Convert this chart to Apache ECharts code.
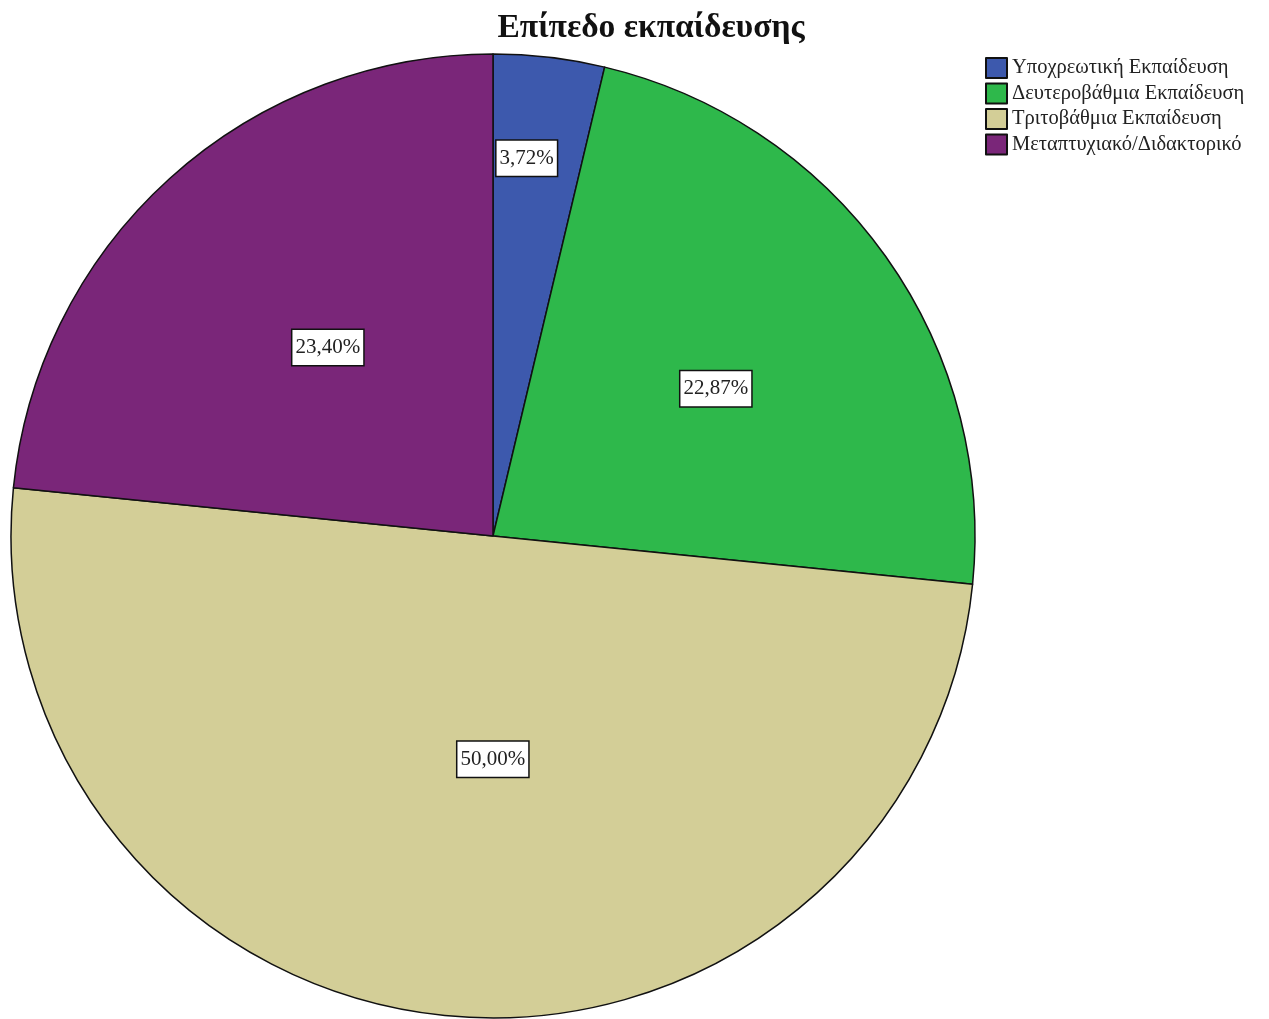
<!DOCTYPE html>
<html>
<head>
<meta charset="utf-8">
<script src="https://cdn.jsdelivr.net/npm/echarts@6/dist/echarts.min.js"></script>
<style>
  html, body { margin: 0; padding: 0; background: #ffffff; }
  #chart { width: 1269px; height: 1019px; }
</style>
</head>
<body>
<div id="chart"></div>
<script>
// Education level shares (percent)
const categories = [
  'Υποχρεωτική Εκπαίδευση',
  'Δευτεροβάθμια Εκπαίδευση',
  'Τριτοβάθμια Εκπαίδευση',
  'Μεταπτυχιακό/Διδακτορικό'
];
const percents = [3.72, 22.87, 50.00, 23.40];
const sliceColors = ['#3d59ad', '#2eb84b', '#d3ce97', '#7a2679'];

// Pie geometry in pixels
const CX = 493, CY = 536, R = 482;
// Value box placement: fraction of the radius and a small angular nudge (degrees)
const labelRadius = [0.787, 0.554, 0.463, 0.52];
const labelNudge = [-1.6, 2.0, -5.7, 0.9];

const total = percents.reduce((a, b) => a + b, 0);
const midAngles = [];
let acc = 0;
percents.forEach(v => {
  midAngles.push(((acc + v / 2) / total) * 2 * Math.PI);
  acc += v;
});

const chart = echarts.init(document.getElementById('chart'));
chart.setOption({
  animation: false,
  backgroundColor: '#ffffff',
  title: {
    text: 'Επίπεδο εκπαίδευσης',
    left: 646,
    textAlign: 'center',
    top: 6,
    textStyle: {
      fontFamily: 'Liberation Serif',
      fontWeight: 'bold',
      fontSize: 33.5,
      color: '#111111'
    }
  },
  legend: {
    orient: 'vertical',
    left: 980,
    top: 52,
    itemWidth: 21,
    itemHeight: 20,
    itemGap: 3.5,
    icon: 'rect',
    textStyle: {
      fontFamily: 'Liberation Serif',
      fontSize: 20.5,
      lineHeight: 22,
      color: '#222222',
      padding: [0, 0, 0, 0]
    },
    data: categories
  },
  series: [{
    type: 'pie',
    center: [CX, CY],
    radius: [0, R],
    startAngle: 90,
    clockwise: true,
    avoidLabelOverlap: false,
    itemStyle: { borderColor: '#111111', borderWidth: 1.5 },
    emphasis: { disabled: true },
    label: {
      show: true,
      position: 'inside',
      formatter: p => percents[p.dataIndex].toFixed(2).replace('.', ',') + '%',
      fontFamily: 'Liberation Serif',
      fontSize: 21,
      color: '#222222',
      backgroundColor: '#ffffff',
      borderColor: '#111111',
      borderWidth: 1.5,
      padding: [8, 3, 6, 3]
    },
    labelLine: { show: false },
    labelLayout: function (params) {
      const i = params.dataIndex;
      const a = midAngles[i] + labelNudge[i] * Math.PI / 180;
      const d = labelRadius[i] * R;
      return {
        x: CX + d * Math.sin(a),
        y: CY - d * Math.cos(a),
        align: 'center',
        verticalAlign: 'middle'
      };
    },
    data: categories.map((name, i) => ({
      name: name,
      value: percents[i],
      itemStyle: { color: sliceColors[i] }
    }))
  }]
});
</script>
</body>
</html>
